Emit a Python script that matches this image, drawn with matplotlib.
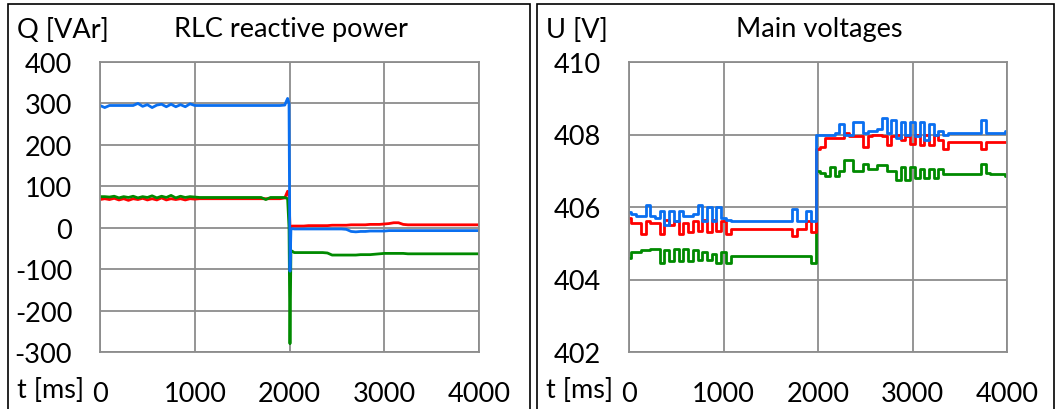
import numpy as np
import matplotlib
matplotlib.use('Agg')
import matplotlib.pyplot as plt
from matplotlib.patches import Rectangle

plt.rcParams['font.family'] = ['Lato', 'DejaVu Sans']
plt.rcParams['axes.unicode_minus'] = False

# --- RLC reactive power [VAr] ---
q_t = np.r_[0:1951:50, 1980, 1995, 2005, 2015, 2030, 2050:4001:50]

q_blue = [295, 290, 295, 295, 295, 295, 295, 295, 300, 293,
          297, 290, 296, 298, 292, 298, 292, 297, 292, 299,
          295, 295, 295, 295, 295, 295, 295, 295, 295, 295,
          295, 295, 295, 295, 295, 295, 295, 295, 295, 296,
          312, 300, -105, -5, -2,
          -3, -3, -3, -3, -3, -3, -3, -3, -3, -3,
          -3, -4, -9, -10, -9, -9, -8, -8, -8, -8,
          -7, -7, -7, -7, -7, -7, -7, -7, -7, -7,
          -7, -7, -7, -7, -7, -7, -7, -7, -7, -7]

q_red = [68, 70, 68, 71, 67, 70, 66, 70, 68, 71,
         67, 70, 67, 72, 67, 70, 68, 70, 67, 70,
         69, 70, 70, 70, 70, 70, 70, 70, 70, 70,
         70, 70, 70, 70, 70, 70, 70, 70, 70, 72,
         88, 75, 0, 3, 4,
         4, 4, 4, 5, 5, 5, 5, 5, 6, 6,
         6, 6, 7, 7, 7, 7, 8, 8, 8, 9,
         10, 12, 12, 8, 7, 7, 7, 7, 7, 7,
         7, 7, 7, 7, 7, 7, 7, 7, 7, 7]

q_green = [75, 75, 74, 76, 72, 75, 73, 76, 72, 75,
           73, 77, 72, 76, 73, 78, 72, 76, 73, 75,
           74, 73, 73, 73, 73, 73, 73, 73, 73, 73,
           73, 73, 73, 73, 73, 68, 73, 73, 73, 73,
           70, 0, -280, -55, -57,
           -60, -60, -60, -60, -60, -60, -60, -61, -66, -66,
           -66, -66, -66, -66, -65, -65, -65, -64, -63, -62,
           -62, -62, -62, -62, -63, -63, -63, -63, -63, -63,
           -63, -63, -63, -63, -63, -63, -63, -63, -63, -63]

# --- Main voltages [V] ---
u_t = np.arange(0, 4001, 50)

u_blue = [405.85, 405.8, 405.75, 405.75, 406.05, 405.75, 405.7, 405.9, 405.5, 405.9,
          405.6, 405.9, 405.75, 405.75, 405.8, 406.05, 405.6, 406.0, 405.6, 406.0,
          405.7, 405.65, 405.6, 405.6, 405.6, 405.6, 405.6, 405.6, 405.6, 405.6,
          405.6, 405.6, 405.6, 405.6, 405.6, 405.95, 405.6, 405.6, 405.9, 405.6,
          408.0, 408.0, 408.0, 408.0, 408.05, 408.3, 408.0, 408.0, 408.35, 408.35,
          408.05, 408.1, 408.1, 408.15, 408.45, 408.05, 408.4, 407.9, 408.35, 408.0,
          408.35, 407.95, 408.35, 407.85, 408.3, 408.0, 408.1, 408.0, 408.05, 408.05,
          408.05, 408.05, 408.05, 408.05, 408.05, 408.4, 408.05, 408.05, 408.05, 408.05,
          408.1]

u_red = [405.7, 405.55, 405.55, 405.25, 405.6, 405.55, 405.55, 405.25, 405.65, 405.5,
         405.6, 405.25, 405.55, 405.3, 405.6, 405.35, 405.65, 405.3, 405.65, 405.35,
         405.6, 405.25, 405.4, 405.4, 405.4, 405.4, 405.4, 405.4, 405.4, 405.4,
         405.4, 405.4, 405.4, 405.4, 405.4, 405.2, 405.4, 405.4, 405.6, 405.3,
         407.6, 407.65, 407.9, 407.9, 407.9, 407.9, 408.05, 407.95, 407.95, 407.95,
         407.65, 407.95, 408.0, 408.0, 407.95, 407.7, 407.95, 408.0, 407.85, 407.95,
         407.75, 408.0, 407.7, 408.0, 407.7, 408.0, 407.85, 407.6, 407.8, 407.8,
         407.8, 407.8, 407.8, 407.8, 407.8, 407.6, 407.8, 407.8, 407.8, 407.8,
         407.8]

u_green = [404.6, 404.75, 404.75, 404.8, 404.8, 404.85, 404.85, 404.45, 404.8, 404.5,
           404.85, 404.5, 404.85, 404.5, 404.8, 404.55, 404.75, 404.55, 404.7, 404.45,
           404.75, 404.45, 404.65, 404.65, 404.65, 404.65, 404.65, 404.65, 404.65, 404.65,
           404.65, 404.65, 404.65, 404.65, 404.65, 404.65, 404.65, 404.65, 404.65, 404.45,
           407.0, 406.95, 406.85, 407.1, 406.85, 407.0, 407.3, 407.3, 407.0, 407.0,
           407.2, 407.05, 407.05, 407.15, 407.15, 407.0, 407.0, 406.75, 407.1, 406.75,
           407.1, 406.8, 407.05, 406.8, 407.05, 406.8, 407.05, 406.9, 406.9, 406.9,
           406.9, 406.9, 406.9, 406.9, 406.9, 407.2, 406.95, 406.9, 406.9, 406.9,
           406.85]

x_ticks = [0, 1000, 2000, 3000, 4000]

blue = '#0a6ff0'
red = '#ff0000'
green = '#008a00'
gridc = '#8c8c8c'

W, H = 1058, 410
fig = plt.figure(figsize=(W / 100, H / 100), dpi=100)

# panel borders
for x0, x1 in [(8, 530), (537, 1054)]:
    fig.patches.append(Rectangle((x0 / W, -0.1), (x1 - x0) / W, 1.1 - 5 / H,
                                 transform=fig.transFigure, fill=False,
                                 edgecolor='black', linewidth=1.2))

FS = 19.5


def panel(left, right, t, series, ylim, yticks, title, ylabel, title_x, ds):
    ax = fig.add_axes([left / W, 1 - 353 / H, (right - left) / W, 290 / H])
    for y, c in series:
        ax.plot(t, y, color=c, linewidth=2.0, drawstyle=ds)
    ax.set_xlim(0, 4000)
    ax.set_ylim(*ylim)
    ax.set_xticks(x_ticks)
    ax.set_yticks(yticks)
    ax.grid(True, color=gridc, linewidth=1.3)
    ax.set_axisbelow(True)
    for s in ax.spines.values():
        s.set_color(gridc)
        s.set_linewidth(1.3)
    ax.tick_params(length=0, labelsize=FS)
    ax.tick_params(axis='y', pad=20)
    ax.tick_params(axis='x', pad=21)
    fig.text((left - 83) / W, 1 - 30 / H, ylabel, fontsize=FS, va='center', ha='left')
    fig.text(title_x / W, 1 - 30 / H, title, fontsize=FS, va='center', ha='center')
    fig.text((left - 83) / W, 1 - 391 / H, 't [ms]', fontsize=FS, va='center', ha='left')
    return ax


ax1 = panel(100, 479, q_t, [(q_red, red), (q_green, green), (q_blue, blue)],
            (-300, 400), np.arange(-300, 401, 100), 'RLC reactive power', 'Q [VAr]', 291,
            'default')
ax2 = panel(629, 1007, u_t, [(u_green, green), (u_red, red), (u_blue, blue)],
            (402, 410), np.arange(402, 411, 2), 'Main voltages', 'U [V]', 819,
            'steps-mid')

fig.savefig('out.png', dpi=100)
